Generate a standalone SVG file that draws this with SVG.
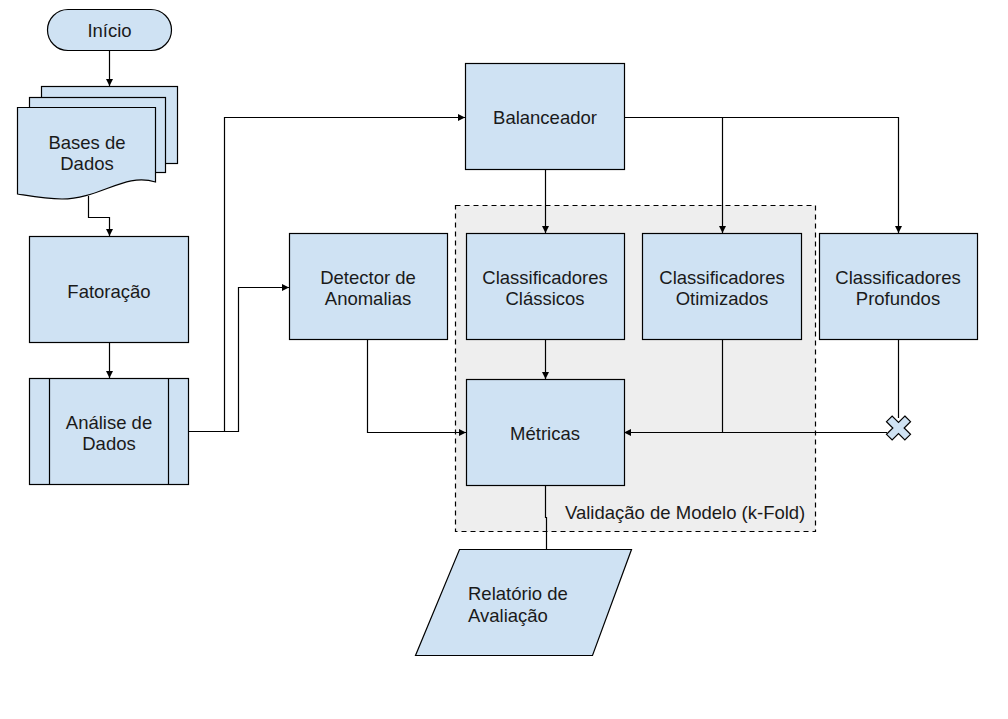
<svg xmlns="http://www.w3.org/2000/svg" width="1008" height="719" viewBox="0 0 1008 719">
<style>
.n{fill:#cfe2f3;stroke:#000;stroke-width:1.2}
.t{font-family:"Liberation Sans",Arial,sans-serif;font-size:18.5px;fill:#1a1a1a;text-anchor:middle}
.c{fill:none;stroke:#000;stroke-width:1.2}
</style>
<defs>
<marker id="a" markerUnits="userSpaceOnUse" markerWidth="8" markerHeight="8" refX="7" refY="3.5" orient="auto">
<path d="M0,0 L7,3.5 L0,7 z" fill="#000"/>
</marker>
</defs>
<rect width="1008" height="719" fill="#fff"/>
<g id="grupo">
<rect x="455.5" y="205.5" width="360" height="326" fill="#eeeeee" stroke="#000" stroke-width="1.2" stroke-dasharray="5,4"/>
<text x="565" y="519" style="font-family:'Liberation Sans',Arial,sans-serif;font-size:18.5px;fill:#1a1a1a">Validação de Modelo (k-Fold)</text>
</g>
<g id="connectors">
<path class="c" d="M109.5,50 V86" marker-end="url(#a)"/>
<path class="c" d="M88.5,196 V217.5 H109.5 V236" marker-end="url(#a)"/>
<path class="c" d="M109.5,342 V378" marker-end="url(#a)"/>
<path class="c" d="M188,431.5 H238.5 V287.5 H289" marker-end="url(#a)"/>
<path class="c" d="M224.5,431.5 V117.5 H465" marker-end="url(#a)"/>
<path class="c" d="M545.5,169 V233" marker-end="url(#a)"/>
<path class="c" d="M624,117.5 H898.5 V233" marker-end="url(#a)"/>
<path class="c" d="M722.5,117.5 V233" marker-end="url(#a)"/>
<path class="c" d="M545.5,339 V379" marker-end="url(#a)"/>
<path class="c" d="M367.5,339 V432.5 H466" marker-end="url(#a)"/>
<path class="c" d="M722.5,339 V432.5"/>
<path class="c" d="M898.5,339 V418"/>
<path class="c" d="M887,432.5 H624" marker-end="url(#a)"/>
<path class="c" d="M545.5,485 V517.5 H546.5 V549"/>
</g>
<g id="inicio">
<rect class="n" x="47.5" y="9.5" width="124" height="41" rx="20.5"/>
<text class="t" x="109.5" y="36.5">Início</text>
</g>
<g id="bases">
<rect class="n" x="41.5" y="86.5" width="136" height="77"/>
<rect class="n" x="29.5" y="97.5" width="136" height="75"/>
<path class="n" d="M17.5,107.5 H155.5 V182 C125,172 100,199 62,199 C45,199 30,196 17.5,194 Z"/>
<text class="t" x="87" y="148.5">Bases de</text>
<text class="t" x="87" y="170">Dados</text>
</g>
<g id="fatoracao">
<rect class="n" x="29.5" y="236.5" width="159" height="106"/>
<text class="t" x="109" y="297.5">Fatoração</text>
</g>
<g id="analise">
<rect class="n" x="29.5" y="378.5" width="159" height="106"/>
<path class="c" d="M49.5,378.5 V484.5 M168.5,378.5 V484.5"/>
<text class="t" x="109" y="428.5">Análise de</text>
<text class="t" x="109" y="450">Dados</text>
</g>
<g id="balanceador">
<rect class="n" x="465.5" y="63.5" width="159" height="106"/>
<text class="t" x="545" y="123.5">Balanceador</text>
</g>
<g id="detector">
<rect class="n" x="289.5" y="233.5" width="158" height="106"/>
<text class="t" x="368" y="283.5">Detector de</text>
<text class="t" x="368" y="305">Anomalias</text>
</g>
<g id="classicos">
<rect class="n" x="466.5" y="233.5" width="158" height="106"/>
<text class="t" x="545" y="283.5">Classificadores</text>
<text class="t" x="545" y="305">Clássicos</text>
</g>
<g id="otimizados">
<rect class="n" x="642.5" y="233.5" width="159" height="106"/>
<text class="t" x="722" y="283.5">Classificadores</text>
<text class="t" x="722" y="305">Otimizados</text>
</g>
<g id="profundos">
<rect class="n" x="819.5" y="233.5" width="158" height="106"/>
<text class="t" x="898" y="283.5">Classificadores</text>
<text class="t" x="898" y="305">Profundos</text>
</g>
<g id="metricas">
<rect class="n" x="466.5" y="379.5" width="158" height="106"/>
<text class="t" x="545" y="439.5">Métricas</text>
</g>
<g id="cruz">
<polygon class="n" transform="translate(898.5,428) rotate(45)" points="-4,-13 4,-13 4,-4 13,-4 13,4 4,4 4,13 -4,13 -4,4 -13,4 -13,-4 -4,-4"/>
</g>
<g id="relatorio">
<polygon class="n" points="459.5,549.5 631.5,549.5 592.5,655.5 415.5,655.5"/>
<text class="t" x="468" y="599.5" style="text-anchor:start">Relatório de</text>
<text class="t" x="468" y="621.5" style="text-anchor:start">Avaliação</text>
</g>
</svg>
